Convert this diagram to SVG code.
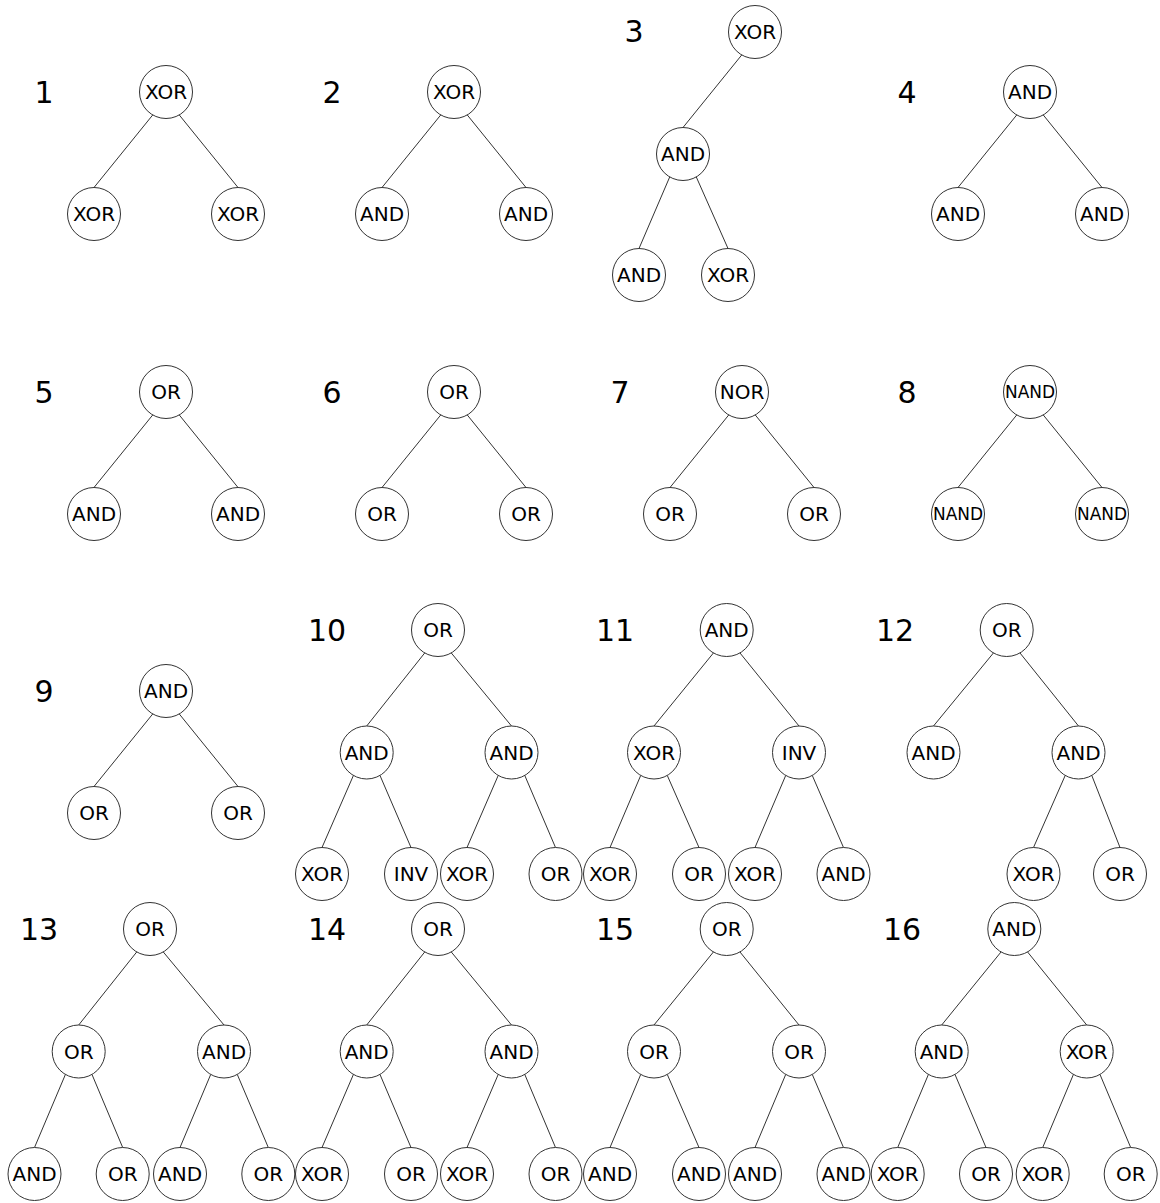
<svg xmlns="http://www.w3.org/2000/svg" width="1160" height="1203" viewBox="0 0 1160 1203">
<style>
.bg{fill:#ffffff}
.n circle{fill:#ffffff;stroke:#333333;stroke-width:1}
.n text{font-family:"DejaVu Sans",sans-serif;font-size:20px;fill:#000000;text-anchor:middle}
.n text.s{font-size:17px}
.lbl{font-family:"DejaVu Sans",sans-serif;font-size:30px;fill:#000000;text-anchor:middle}
#edges line{stroke:#333333;stroke-width:1;fill:none}
</style>
<rect class="bg" x="0" y="0" width="1160" height="1203"/>
<g id="labels">
<text class="lbl" x="44" y="103">1</text>
<text class="lbl" x="332" y="103">2</text>
<text class="lbl" x="634" y="42">3</text>
<text class="lbl" x="907" y="103">4</text>
<text class="lbl" x="44" y="403">5</text>
<text class="lbl" x="332" y="403">6</text>
<text class="lbl" x="620" y="403">7</text>
<text class="lbl" x="907" y="403">8</text>
<text class="lbl" x="44" y="702">9</text>
<text class="lbl" x="327" y="641">10</text>
<text class="lbl" x="615" y="641">11</text>
<text class="lbl" x="895" y="641">12</text>
<text class="lbl" x="39" y="940">13</text>
<text class="lbl" x="327" y="940">14</text>
<text class="lbl" x="615" y="940">15</text>
<text class="lbl" x="902" y="940">16</text>
</g>
<g id="edges">
<line x1="152.7" y1="115" x2="94" y2="187.5"/><line x1="179.3" y1="115" x2="238" y2="187.5"/>
<line x1="440.7" y1="115" x2="382" y2="187.5"/><line x1="467.3" y1="115" x2="526" y2="187.5"/>
<line x1="741.7" y1="55" x2="683" y2="127.5"/><line x1="669.7" y1="177" x2="639" y2="248.5"/><line x1="696.3" y1="177" x2="728" y2="248.5"/>
<line x1="1016.7" y1="115" x2="958" y2="187.5"/><line x1="1043.3" y1="115" x2="1102" y2="187.5"/>
<line x1="152.7" y1="415" x2="94" y2="487.5"/><line x1="179.3" y1="415" x2="238" y2="487.5"/>
<line x1="440.7" y1="415" x2="382" y2="487.5"/><line x1="467.3" y1="415" x2="526" y2="487.5"/>
<line x1="728.7" y1="415" x2="670" y2="487.5"/><line x1="755.3" y1="415" x2="814" y2="487.5"/>
<line x1="1016.7" y1="415" x2="958" y2="487.5"/><line x1="1043.3" y1="415" x2="1102" y2="487.5"/>
<line x1="152.7" y1="714" x2="94" y2="786.5"/><line x1="179.3" y1="714" x2="238" y2="786.5"/>
<line x1="424.7" y1="653" x2="366.7" y2="726"/><line x1="451.3" y1="653" x2="511.5" y2="726"/>
<line x1="353.4" y1="775.5" x2="322" y2="847.5"/><line x1="380" y1="775.5" x2="411" y2="847.5"/>
<line x1="498.2" y1="775.5" x2="467" y2="847.5"/><line x1="524.8" y1="775.5" x2="555.5" y2="847.5"/>
<line x1="713.4" y1="653" x2="654" y2="726"/><line x1="740" y1="653" x2="799" y2="726"/>
<line x1="640.7" y1="775.5" x2="610" y2="847.5"/><line x1="667.3" y1="775.5" x2="699" y2="847.5"/>
<line x1="785.7" y1="775.5" x2="755" y2="847.5"/><line x1="812.3" y1="775.5" x2="843.5" y2="847.5"/>
<line x1="993.4" y1="653" x2="933.5" y2="726"/><line x1="1020" y1="653" x2="1078.5" y2="726"/>
<line x1="1065.2" y1="775.5" x2="1033.5" y2="847.5"/><line x1="1091.8" y1="775.5" x2="1120" y2="847.5"/>
<line x1="136.7" y1="952" x2="78.7" y2="1025"/><line x1="163.3" y1="952" x2="224" y2="1025"/>
<line x1="65.4" y1="1074.5" x2="34.5" y2="1147.5"/><line x1="92" y1="1074.5" x2="122.7" y2="1147.5"/>
<line x1="210.7" y1="1074.5" x2="180" y2="1147.5"/><line x1="237.3" y1="1074.5" x2="268.3" y2="1147.5"/>
<line x1="424.7" y1="952" x2="366.7" y2="1025"/><line x1="451.3" y1="952" x2="511.5" y2="1025"/>
<line x1="353.4" y1="1074.5" x2="322" y2="1147.5"/><line x1="380" y1="1074.5" x2="411" y2="1147.5"/>
<line x1="498.2" y1="1074.5" x2="467" y2="1147.5"/><line x1="524.8" y1="1074.5" x2="555.5" y2="1147.5"/>
<line x1="713.4" y1="952" x2="654" y2="1025"/><line x1="740" y1="952" x2="799" y2="1025"/>
<line x1="640.7" y1="1074.5" x2="610" y2="1147.5"/><line x1="667.3" y1="1074.5" x2="699" y2="1147.5"/>
<line x1="785.7" y1="1074.5" x2="755" y2="1147.5"/><line x1="812.3" y1="1074.5" x2="843.5" y2="1147.5"/>
<line x1="1001" y1="952" x2="941.7" y2="1025"/><line x1="1027.6" y1="952" x2="1086.7" y2="1025"/>
<line x1="928.4" y1="1074.5" x2="897.7" y2="1147.5"/><line x1="955" y1="1074.5" x2="986" y2="1147.5"/>
<line x1="1073.4" y1="1074.5" x2="1042.7" y2="1147.5"/><line x1="1100" y1="1074.5" x2="1130.7" y2="1147.5"/>
</g>
<g id="nodes">
<g id="t1-root" class="n" transform="translate(166,92)"><circle r="26.5"/><text y="7">XOR</text></g>
<g id="t1-l" class="n" transform="translate(94,214)"><circle r="26.5"/><text y="7">XOR</text></g>
<g id="t1-r" class="n" transform="translate(238,214)"><circle r="26.5"/><text y="7">XOR</text></g>
<g id="t2-root" class="n" transform="translate(454,92)"><circle r="26.5"/><text y="7">XOR</text></g>
<g id="t2-l" class="n" transform="translate(382,214)"><circle r="26.5"/><text y="7">AND</text></g>
<g id="t2-r" class="n" transform="translate(526,214)"><circle r="26.5"/><text y="7">AND</text></g>
<g id="t3-root" class="n" transform="translate(755,32)"><circle r="26.5"/><text y="7">XOR</text></g>
<g id="t3-l" class="n" transform="translate(683,154)"><circle r="26.5"/><text y="7">AND</text></g>
<g id="t3-ll" class="n" transform="translate(639,275)"><circle r="26.5"/><text y="7">AND</text></g>
<g id="t3-lr" class="n" transform="translate(728,275)"><circle r="26.5"/><text y="7">XOR</text></g>
<g id="t4-root" class="n" transform="translate(1030,92)"><circle r="26.5"/><text y="7">AND</text></g>
<g id="t4-l" class="n" transform="translate(958,214)"><circle r="26.5"/><text y="7">AND</text></g>
<g id="t4-r" class="n" transform="translate(1102,214)"><circle r="26.5"/><text y="7">AND</text></g>
<g id="t5-root" class="n" transform="translate(166,392)"><circle r="26.5"/><text y="7">OR</text></g>
<g id="t5-l" class="n" transform="translate(94,514)"><circle r="26.5"/><text y="7">AND</text></g>
<g id="t5-r" class="n" transform="translate(238,514)"><circle r="26.5"/><text y="7">AND</text></g>
<g id="t6-root" class="n" transform="translate(454,392)"><circle r="26.5"/><text y="7">OR</text></g>
<g id="t6-l" class="n" transform="translate(382,514)"><circle r="26.5"/><text y="7">OR</text></g>
<g id="t6-r" class="n" transform="translate(526,514)"><circle r="26.5"/><text y="7">OR</text></g>
<g id="t7-root" class="n" transform="translate(742,392)"><circle r="26.5"/><text y="7">NOR</text></g>
<g id="t7-l" class="n" transform="translate(670,514)"><circle r="26.5"/><text y="7">OR</text></g>
<g id="t7-r" class="n" transform="translate(814,514)"><circle r="26.5"/><text y="7">OR</text></g>
<g id="t8-root" class="n" transform="translate(1030,392)"><circle r="26.5"/><text class="s" y="6">NAND</text></g>
<g id="t8-l" class="n" transform="translate(958,514)"><circle r="26.5"/><text class="s" y="6">NAND</text></g>
<g id="t8-r" class="n" transform="translate(1102,514)"><circle r="26.5"/><text class="s" y="6">NAND</text></g>
<g id="t9-root" class="n" transform="translate(166,691)"><circle r="26.5"/><text y="7">AND</text></g>
<g id="t9-l" class="n" transform="translate(94,813)"><circle r="26.5"/><text y="7">OR</text></g>
<g id="t9-r" class="n" transform="translate(238,813)"><circle r="26.5"/><text y="7">OR</text></g>
<g id="t10-root" class="n" transform="translate(438,630)"><circle r="26.5"/><text y="7">OR</text></g>
<g id="t10-l" class="n" transform="translate(366.7,752.5)"><circle r="26.5"/><text y="7">AND</text></g>
<g id="t10-r" class="n" transform="translate(511.5,752.5)"><circle r="26.5"/><text y="7">AND</text></g>
<g id="t10-ll" class="n" transform="translate(322,874)"><circle r="26.5"/><text y="7">XOR</text></g>
<g id="t10-lr" class="n" transform="translate(411,874)"><circle r="26.5"/><text y="7">INV</text></g>
<g id="t10-rl" class="n" transform="translate(467,874)"><circle r="26.5"/><text y="7">XOR</text></g>
<g id="t10-rr" class="n" transform="translate(555.5,874)"><circle r="26.5"/><text y="7">OR</text></g>
<g id="t11-root" class="n" transform="translate(726.7,630)"><circle r="26.5"/><text y="7">AND</text></g>
<g id="t11-l" class="n" transform="translate(654,752.5)"><circle r="26.5"/><text y="7">XOR</text></g>
<g id="t11-r" class="n" transform="translate(799,752.5)"><circle r="26.5"/><text y="7">INV</text></g>
<g id="t11-ll" class="n" transform="translate(610,874)"><circle r="26.5"/><text y="7">XOR</text></g>
<g id="t11-lr" class="n" transform="translate(699,874)"><circle r="26.5"/><text y="7">OR</text></g>
<g id="t11-rl" class="n" transform="translate(755,874)"><circle r="26.5"/><text y="7">XOR</text></g>
<g id="t11-rr" class="n" transform="translate(843.5,874)"><circle r="26.5"/><text y="7">AND</text></g>
<g id="t12-root" class="n" transform="translate(1006.7,630)"><circle r="26.5"/><text y="7">OR</text></g>
<g id="t12-l" class="n" transform="translate(933.5,752.5)"><circle r="26.5"/><text y="7">AND</text></g>
<g id="t12-r" class="n" transform="translate(1078.5,752.5)"><circle r="26.5"/><text y="7">AND</text></g>
<g id="t12-rl" class="n" transform="translate(1033.5,874)"><circle r="26.5"/><text y="7">XOR</text></g>
<g id="t12-rr" class="n" transform="translate(1120,874)"><circle r="26.5"/><text y="7">OR</text></g>
<g id="t13-root" class="n" transform="translate(150,929)"><circle r="26.5"/><text y="7">OR</text></g>
<g id="t13-l" class="n" transform="translate(78.7,1051.5)"><circle r="26.5"/><text y="7">OR</text></g>
<g id="t13-r" class="n" transform="translate(224,1051.5)"><circle r="26.5"/><text y="7">AND</text></g>
<g id="t13-ll" class="n" transform="translate(34.5,1174)"><circle r="26.5"/><text y="7">AND</text></g>
<g id="t13-lr" class="n" transform="translate(122.7,1174)"><circle r="26.5"/><text y="7">OR</text></g>
<g id="t13-rl" class="n" transform="translate(180,1174)"><circle r="26.5"/><text y="7">AND</text></g>
<g id="t13-rr" class="n" transform="translate(268.3,1174)"><circle r="26.5"/><text y="7">OR</text></g>
<g id="t14-root" class="n" transform="translate(438,929)"><circle r="26.5"/><text y="7">OR</text></g>
<g id="t14-l" class="n" transform="translate(366.7,1051.5)"><circle r="26.5"/><text y="7">AND</text></g>
<g id="t14-r" class="n" transform="translate(511.5,1051.5)"><circle r="26.5"/><text y="7">AND</text></g>
<g id="t14-ll" class="n" transform="translate(322,1174)"><circle r="26.5"/><text y="7">XOR</text></g>
<g id="t14-lr" class="n" transform="translate(411,1174)"><circle r="26.5"/><text y="7">OR</text></g>
<g id="t14-rl" class="n" transform="translate(467,1174)"><circle r="26.5"/><text y="7">XOR</text></g>
<g id="t14-rr" class="n" transform="translate(555.5,1174)"><circle r="26.5"/><text y="7">OR</text></g>
<g id="t15-root" class="n" transform="translate(726.7,929)"><circle r="26.5"/><text y="7">OR</text></g>
<g id="t15-l" class="n" transform="translate(654,1051.5)"><circle r="26.5"/><text y="7">OR</text></g>
<g id="t15-r" class="n" transform="translate(799,1051.5)"><circle r="26.5"/><text y="7">OR</text></g>
<g id="t15-ll" class="n" transform="translate(610,1174)"><circle r="26.5"/><text y="7">AND</text></g>
<g id="t15-lr" class="n" transform="translate(699,1174)"><circle r="26.5"/><text y="7">AND</text></g>
<g id="t15-rl" class="n" transform="translate(755,1174)"><circle r="26.5"/><text y="7">AND</text></g>
<g id="t15-rr" class="n" transform="translate(843.5,1174)"><circle r="26.5"/><text y="7">AND</text></g>
<g id="t16-root" class="n" transform="translate(1014.3,929)"><circle r="26.5"/><text y="7">AND</text></g>
<g id="t16-l" class="n" transform="translate(941.7,1051.5)"><circle r="26.5"/><text y="7">AND</text></g>
<g id="t16-r" class="n" transform="translate(1086.7,1051.5)"><circle r="26.5"/><text y="7">XOR</text></g>
<g id="t16-ll" class="n" transform="translate(897.7,1174)"><circle r="26.5"/><text y="7">XOR</text></g>
<g id="t16-lr" class="n" transform="translate(986,1174)"><circle r="26.5"/><text y="7">OR</text></g>
<g id="t16-rl" class="n" transform="translate(1042.7,1174)"><circle r="26.5"/><text y="7">XOR</text></g>
<g id="t16-rr" class="n" transform="translate(1130.7,1174)"><circle r="26.5"/><text y="7">OR</text></g>
</g>
</svg>
